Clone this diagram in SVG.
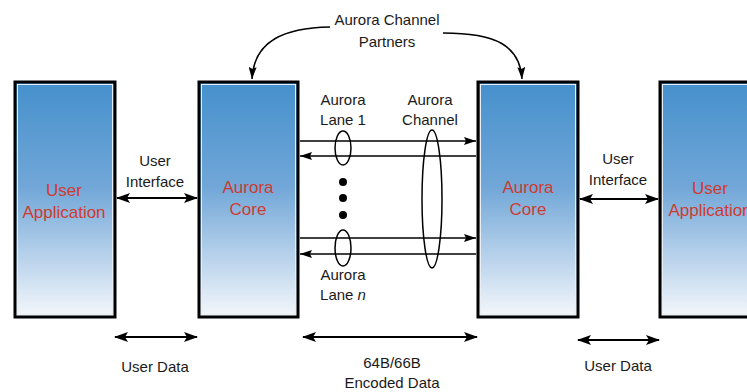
<svg xmlns="http://www.w3.org/2000/svg" width="747" height="392" viewBox="0 0 747 392">
<style>
text{font-family:"Liberation Sans",Arial,sans-serif;fill:#1a1a1a;font-size:15px;text-anchor:middle}
.red{fill:#cf3b30;font-size:17px}
.box{stroke:#000;stroke-width:3;fill:url(#g)}
.inner{fill:none;stroke:#e8eef4;stroke-width:1}
.arr{stroke:#000;stroke-width:2;fill:none}
.ln{stroke:#000;stroke-width:1.5;fill:none}
.ell{stroke:#000;stroke-width:1.5;fill:none}
</style>
<defs>
<linearGradient id="g" x1="0" y1="0" x2="0" y2="1">
<stop offset="0" stop-color="#4590cc"/>
<stop offset="0.45" stop-color="#72a7d8"/>
<stop offset="1" stop-color="#f4f7fb"/>
</linearGradient>
<marker id="big" viewBox="0 0 14 10" refX="13" refY="5" markerWidth="14" markerHeight="10" markerUnits="userSpaceOnUse" orient="auto-start-reverse">
<path d="M0,0 L14,5 L0,10 L3,5 Z" fill="#000"/>
</marker>
<marker id="sm" viewBox="0 0 12 8" refX="12" refY="4" markerWidth="12" markerHeight="8" markerUnits="userSpaceOnUse" orient="auto-start-reverse">
<path d="M0,0 L12,4 L0,8 L2,4 Z" fill="#000"/>
</marker>
</defs>
<rect width="747" height="392" fill="#fff"/>

<g id="user-app-left">
<rect class="box" x="15" y="82" width="100" height="235"/>
<rect class="inner" x="17.5" y="84.5" width="95" height="230"/>
<text class="red" x="64" y="196">User</text>
<text class="red" x="64" y="218">Application</text>
</g>
<g id="aurora-core-left">
<rect class="box" x="199" y="82" width="99" height="235"/>
<rect class="inner" x="201.5" y="84.5" width="94" height="230"/>
<text class="red" x="248" y="193">Aurora</text>
<text class="red" x="248" y="215">Core</text>
</g>
<g id="aurora-core-right">
<rect class="box" x="478" y="82" width="100" height="235"/>
<rect class="inner" x="480.5" y="84.5" width="95" height="230"/>
<text class="red" x="528" y="193">Aurora</text>
<text class="red" x="528" y="215">Core</text>
</g>
<g id="user-app-right">
<rect class="box" x="660" y="82" width="100" height="235"/>
<rect class="inner" x="662.5" y="84.5" width="95" height="230"/>
<text class="red" x="710" y="194">User</text>
<text class="red" x="710" y="216">Application</text>
</g>

<g id="connectors">
<path class="arr" d="M117,198 H197" marker-start="url(#big)" marker-end="url(#big)"/>
<path class="arr" d="M580,199 H658" marker-start="url(#big)" marker-end="url(#big)"/>
<path class="ln" d="M300,141 H476" marker-end="url(#sm)"/>
<path class="ln" d="M300,156 H476" marker-start="url(#sm)"/>
<path class="ln" d="M300,238 H476" marker-end="url(#sm)"/>
<path class="ln" d="M300,254 H476" marker-start="url(#sm)"/>
<path class="arr" d="M115,337 H197" marker-start="url(#big)" marker-end="url(#big)"/>
<path class="arr" d="M303,337 H477" marker-start="url(#big)" marker-end="url(#big)"/>
<path class="arr" d="M578,340 H659" marker-start="url(#big)" marker-end="url(#big)"/>
<path class="ln" d="M330,27 C285,28 254,40 252,79" marker-end="url(#sm)"/>
<path class="ln" d="M443,33 C495,33 520,45 522,79" marker-end="url(#sm)"/>
</g>

<g id="lane-1">
<ellipse class="ell" cx="343" cy="148" rx="8" ry="17"/>
<text x="343" y="105">Aurora</text>
<text x="343" y="125">Lane 1</text>
</g>
<g id="lane-dots">
<circle cx="343" cy="182" r="4" fill="#000"/>
<circle cx="343" cy="198" r="4" fill="#000"/>
<circle cx="343" cy="215" r="4" fill="#000"/>
</g>
<g id="lane-n">
<ellipse class="ell" cx="343" cy="248" rx="8" ry="18"/>
<text x="343" y="280">Aurora</text>
<text x="343" y="300">Lane <tspan font-style="italic">n</tspan></text>
</g>
<g id="aurora-channel">
<ellipse class="ell" cx="432" cy="199" rx="10" ry="69"/>
<text x="430" y="105">Aurora</text>
<text x="430" y="125">Channel</text>
</g>

<g id="labels">
<text x="387" y="25">Aurora Channel</text>
<text x="387" y="47">Partners</text>
<text x="155" y="166">User</text>
<text x="155" y="187">Interface</text>
<text x="618" y="164">User</text>
<text x="618" y="185">Interface</text>
<text x="155" y="372">User Data</text>
<text x="618" y="371">User Data</text>
<text x="392" y="368">64B/66B</text>
<text x="392" y="388">Encoded Data</text>
</g>
</svg>
